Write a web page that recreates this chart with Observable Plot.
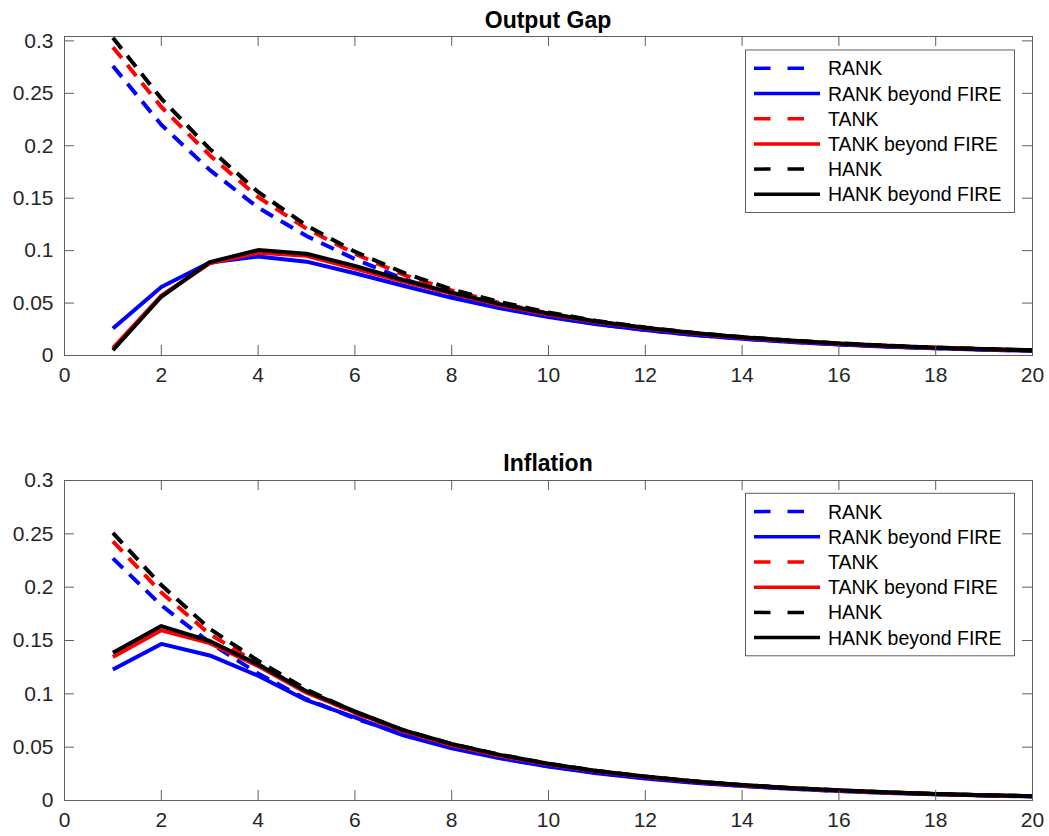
<!DOCTYPE html>
<html>
<head>
<meta charset="utf-8">
<script src="https://cdn.jsdelivr.net/npm/d3@7"></script>
<script src="https://cdn.jsdelivr.net/npm/@observablehq/plot@0.6"></script>
<style>
  body { margin: 0; background: #fff; }
  #wrap { position: relative; width: 1049px; height: 836px; font-family: "Liberation Sans", Arial, sans-serif; }
  #overlay { position: absolute; left: 0; top: 0; pointer-events: none; }
</style>
</head>
<body>
<div id="wrap"></div>
<script>
// ---------- data ----------
const periods = [1,2,3,4,5,6,7,8,9,10,11,12,13,14,15,16,17,18,19,20];
const xTicks = [0,2,4,6,8,10,12,14,16,18,20];
const yTicks = [0,0.05,0.1,0.15,0.2,0.25,0.3];
const yTickLabels = ["0","0.05","0.1","0.15","0.2","0.25","0.3"];
const seriesNames = ["RANK","RANK beyond FIRE","TANK","TANK beyond FIRE","HANK","HANK beyond FIRE"];
const seriesColors = ["#0000ff","#0000ff","#ff0000","#ff0000","#000000","#000000"];
const seriesDashed = [true,false,true,false,true,false];
const panelTitles = ["Output Gap","Inflation"];

// Output Gap
const gapRANK      = [0.276,0.220,0.177,0.141,0.114,0.092,0.073,0.058,0.046,0.0372,0.0300,0.0243,0.0197,0.0160,0.0130,0.0105,0.0085,0.0069,0.0056,0.0046];
const gapRANKbf    = [0.0257,0.0654,0.0887,0.0945,0.0895,0.0785,0.0665,0.0550,0.0450,0.0367,0.0298,0.0242,0.0196,0.0159,0.0129,0.0104,0.0084,0.0068,0.0055,0.0045];
const gapTANK      = [0.294,0.237,0.191,0.151,0.121,0.097,0.077,0.062,0.050,0.040,0.0325,0.0264,0.0214,0.0174,0.0141,0.0114,0.0092,0.0075,0.0061,0.0049];
const gapTANKbf    = [0.007,0.057,0.088,0.098,0.095,0.083,0.0705,0.059,0.048,0.039,0.032,0.026,0.021,0.017,0.0139,0.0113,0.0091,0.0074,0.0060,0.0049];
const gapHANK      = [0.303,0.245,0.197,0.156,0.124,0.099,0.079,0.063,0.051,0.041,0.0330,0.0268,0.0217,0.0176,0.0143,0.0116,0.0094,0.0076,0.0062,0.0050];
const gapHANKbf    = [0.005,0.056,0.089,0.1005,0.097,0.0855,0.072,0.060,0.049,0.040,0.0325,0.0265,0.0215,0.0175,0.0142,0.0115,0.0093,0.0075,0.0061,0.0050];

// Inflation
const infRANK      = [0.227,0.183,0.148,0.119,0.095,0.077,0.062,0.050,0.040,0.032,0.026,0.021,0.017,0.0138,0.0111,0.0090,0.0073,0.0059,0.0048,0.0039];
const infRANKbf    = [0.1228,0.1468,0.136,0.117,0.094,0.078,0.061,0.049,0.0395,0.0318,0.0256,0.0207,0.0167,0.0135,0.0109,0.0088,0.0071,0.0058,0.0047,0.0038];
const infTANK      = [0.243,0.195,0.156,0.128,0.102,0.082,0.065,0.052,0.042,0.034,0.0274,0.0221,0.0178,0.0144,0.0116,0.0094,0.0076,0.0061,0.0049,0.0040];
const infTANKbf    = [0.1345,0.1595,0.1475,0.126,0.101,0.0825,0.065,0.052,0.042,0.034,0.0274,0.0221,0.0178,0.0144,0.0116,0.0094,0.0076,0.0061,0.0049,0.0040];
const infHANK      = [0.251,0.202,0.161,0.131,0.104,0.083,0.066,0.053,0.043,0.0345,0.0278,0.0224,0.0181,0.0146,0.0118,0.0095,0.0077,0.0062,0.0050,0.0041];
const infHANKbf    = [0.1385,0.1635,0.1495,0.1275,0.1025,0.0835,0.066,0.053,0.0428,0.0344,0.0277,0.0224,0.0181,0.0146,0.0118,0.0095,0.0077,0.0062,0.0050,0.0041];

const panelSeries = [
  [gapRANK, gapRANKbf, gapTANK, gapTANKbf, gapHANK, gapHANKbf],
  [infRANK, infRANKbf, infTANK, infTANKbf, infHANK, infHANKbf]
];
const panelYMax = [0.3042, 0.3];

// ---------- layout ----------
const W = 1049, PH = 418;
const ML = 64, MR = 17;
const panelMargins = [{top: 36, bottom: 63}, {top: 62, bottom: 36}];
const axisColor = "#5f5f5f";
const textColor = "#262626";
const dash = "14,9";
const tickFont = 21;

const wrap = document.getElementById("wrap");

panelSeries.forEach((series, p) => {
  const m = panelMargins[p];
  const innerW = W - ML - MR;
  const innerH = PH - m.top - m.bottom;
  const marks = [];
  series.forEach((vals, s) => {
    const rows = periods.map((t, i) => ({t, v: vals[i]}));
    marks.push(Plot.line(rows, {
      x: "t", y: "v",
      stroke: seriesColors[s],
      strokeWidth: 4,
      strokeDasharray: seriesDashed[s] ? dash : null,
      strokeLinejoin: "round",
      strokeLinecap: "butt"
    }));
  });
  marks.push(
    Plot.frame({stroke: axisColor, strokeWidth: 1}),
    Plot.tickX(xTicks, {x: d => d, insetTop: innerH - 10, stroke: axisColor, strokeWidth: 1}),
    Plot.tickX(xTicks, {x: d => d, insetBottom: innerH - 10, stroke: axisColor, strokeWidth: 1}),
    Plot.tickY(yTicks, {y: d => d, insetRight: innerW - 10, stroke: axisColor, strokeWidth: 1}),
    Plot.tickY(yTicks, {y: d => d, insetLeft: innerW - 10, stroke: axisColor, strokeWidth: 1}),
    Plot.axisX(xTicks, {tickSize: 0, tickPadding: 12, fontSize: tickFont, fill: textColor, label: null}),
    Plot.axisY(yTicks, {tickSize: 0, tickPadding: 11, fontSize: tickFont, fill: textColor, label: null,
      tickFormat: d => yTickLabels[yTicks.indexOf(d)]})
  );
  const chart = Plot.plot({
    width: W, height: PH,
    marginLeft: ML, marginRight: MR, marginTop: m.top, marginBottom: m.bottom,
    x: {domain: [0, 20]},
    y: {domain: [0, panelYMax[p]]},
    style: {fontFamily: "'Liberation Sans', Arial, sans-serif", fontSize: tickFont + "px", color: textColor, background: "#fff", overflow: "visible"},
    marks
  });
  chart.style.position = "absolute";
  chart.style.left = "0px";
  chart.style.top = (p * PH) + "px";
  wrap.appendChild(chart);
});

// ---------- titles and legends overlay ----------
const ov = d3.select(wrap).append("svg")
  .attr("id", "overlay").attr("width", W).attr("height", 836)
  .style("font-family", "'Liberation Sans', Arial, sans-serif");

const titleBaselines = [28, 471];
panelTitles.forEach((t, p) => {
  ov.append("text").attr("x", ML + (W - ML - MR) / 2).attr("y", titleBaselines[p])
    .attr("text-anchor", "middle").attr("font-weight", "bold").attr("font-size", 23)
    .attr("fill", "#000").text(t);
});

const legendTops = [50, 493.3];
legendTops.forEach(top => {
  const g = ov.append("g").attr("transform", `translate(745.5,${top})`);
  g.append("rect").attr("width", 269).attr("height", 162.5)
    .attr("fill", "#fff").attr("stroke", axisColor).attr("stroke-width", 1);
  seriesNames.forEach((name, i) => {
    const y = 18.3 + i * 25.2;
    g.append("line").attr("x1", 8.5).attr("x2", 74.5).attr("y1", y).attr("y2", y)
      .attr("stroke", seriesColors[i]).attr("stroke-width", 3.5)
      .attr("stroke-dasharray", seriesDashed[i] ? "16.5,17" : null);
    g.append("text").attr("x", 82.5).attr("y", y).attr("dy", "0.36em")
      .attr("font-size", 19.5).attr("fill", "#000").text(name);
  });
});
</script>
</body>
</html>
